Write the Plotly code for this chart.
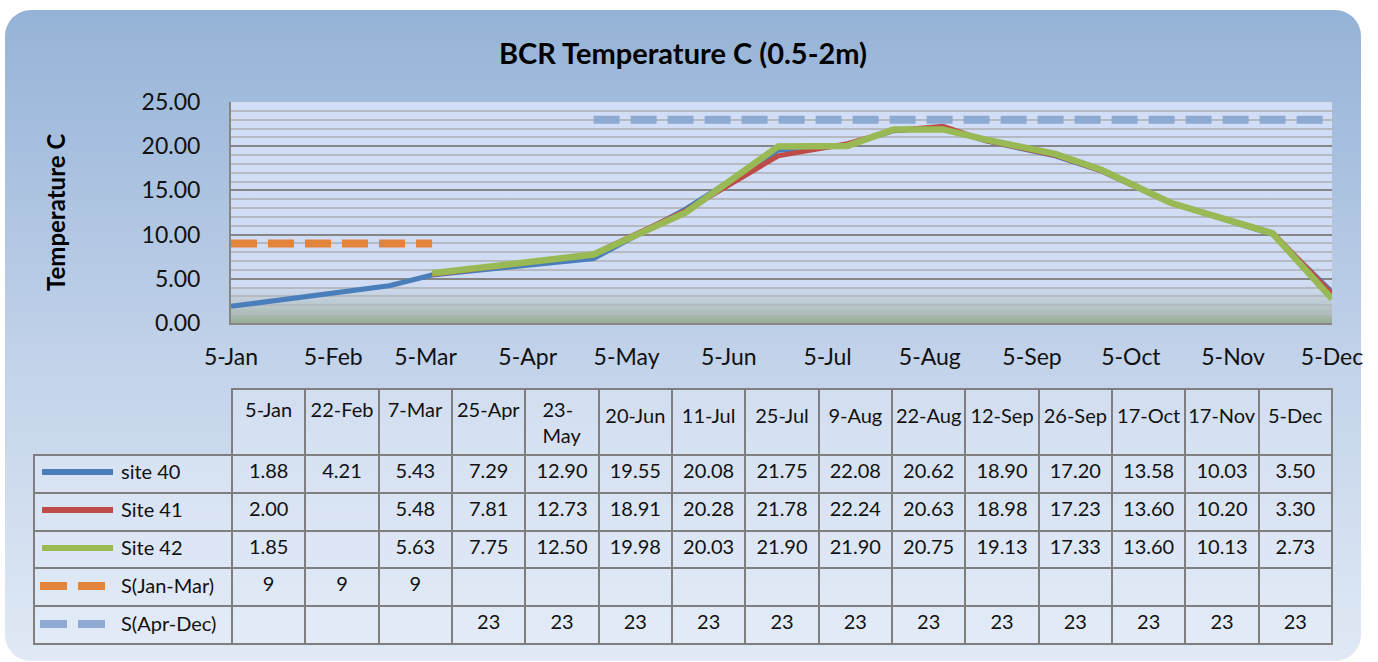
import base64
import plotly.graph_objects as go

# ---------------- data ----------------
dates = ["2010-01-05", "2010-02-22", "2010-03-07", "2010-04-25", "2010-05-23",
         "2010-06-20", "2010-07-11", "2010-07-25", "2010-08-09", "2010-08-22",
         "2010-09-12", "2010-09-26", "2010-10-17", "2010-11-17", "2010-12-05"]
table_headers = ["5-Jan", "22-Feb", "7-Mar", "25-Apr", "23-<br>May", "20-Jun", "11-Jul",
                 "25-Jul", "9-Aug", "22-Aug", "12-Sep", "26-Sep", "17-Oct", "17-Nov", "5-Dec"]
site40 = [1.88, 4.21, 5.43, 7.29, 12.90, 19.55, 20.08, 21.75, 22.08, 20.62, 18.90, 17.20, 13.58, 10.03, 3.50]
site41 = [2.00, None, 5.48, 7.81, 12.73, 18.91, 20.28, 21.78, 22.24, 20.63, 18.98, 17.23, 13.60, 10.20, 3.30]
site42 = [1.85, None, 5.63, 7.75, 12.50, 19.98, 20.03, 21.90, 21.90, 20.75, 19.13, 17.33, 13.60, 10.13, 2.73]
s_jan_mar = [9, 9, 9, None, None, None, None, None, None, None, None, None, None, None, None]
s_apr_dec = [None, None, None, 23, 23, 23, 23, 23, 23, 23, 23, 23, 23, 23, 23]
series_names = ["site 40", "Site 41", "Site 42", "S(Jan-Mar)", "S(Apr-Dec)"]
x_range = ["2010-01-05", "2010-12-05"]
y_ticks = [0, 5, 10, 15, 20, 25]

# ---------------- styling ----------------
W, H = 1378, 662
FONT = "Lato, Carlito, Calibri, sans-serif"
colors = ["#4a7ebb", "#be4b48", "#98b954", "#e3843c", "#8eaad2"]
widths = [5, 5, 6.5, 8, 8]
dashes = ["solid", "solid", "solid", "26px,11px", "26px,11px"]


def px(x):
    return x / W


def py(y):
    return 1 - y / H


PL, PR, PT, PB = 231, 1332, 102, 323  # plot area in pixels

bg_svg = f"""<svg xmlns='http://www.w3.org/2000/svg' width='{W}' height='{H}' viewBox='0 0 {W} {H}' preserveAspectRatio='none'>
<defs><linearGradient id='g' x1='0' y1='0' x2='0' y2='1'>
<stop offset='0' stop-color='#95b3d7'/><stop offset='0.55' stop-color='#c3d3ea'/><stop offset='1' stop-color='#e0e9f5'/>
</linearGradient></defs>
<rect x='5' y='10' width='1356' height='651' rx='26' ry='26' fill='url(#g)'/>
</svg>"""

pa_w, pa_h = PR - PL, PB - PT
plot_svg = f"""<svg xmlns='http://www.w3.org/2000/svg' width='{pa_w}' height='{pa_h}' viewBox='0 0 {pa_w} {pa_h}' preserveAspectRatio='none'>
<defs><linearGradient id='p' x1='0' y1='0' x2='0' y2='1'>
<stop offset='0' stop-color='#d2def6'/><stop offset='0.83' stop-color='#d0dcf3'/><stop offset='0.93' stop-color='#b7c5c8'/><stop offset='1' stop-color='#99ac96'/>
</linearGradient></defs>
<rect x='0' y='0' width='{pa_w}' height='{pa_h}' fill='url(#p)'/>
</svg>"""


def uri(svg):
    return "data:image/svg+xml;base64," + base64.b64encode(svg.encode()).decode()


fig = go.Figure()

series = [site40, site41, site42, s_jan_mar, s_apr_dec]
for name, vals, c, w, d in zip(series_names, series, colors, widths, dashes):
    fig.add_trace(go.Scatter(
        x=dates, y=vals, name=name, mode="lines",
        line=dict(color=c, width=w, dash=d),
        connectgaps=(name == "site 40"), showlegend=False,
        xaxis="x", yaxis="y",
    ))


def fmt(v, dec):
    if v is None:
        return ""
    return f"{v:.{dec}f}" if dec else f"{v:.0f}"


cols = [[""] * 5]
for i in range(len(dates)):
    cols.append([fmt(site40[i], 2), fmt(site41[i], 2), fmt(site42[i], 2),
                 fmt(s_jan_mar[i], 0), fmt(s_apr_dec[i], 0)])

# single-line headers get pushed down one line so they sit mid-cell like the wrapped one
header_text = [""] + [lbl if "<br>" in lbl else "<br>" + lbl for lbl in table_headers]

border = "#7f7f7f"
cell_fill = "rgba(235,242,252,0.35)"
TABLE_TOP = 389
fig.add_trace(go.Table(
    domain=dict(x=[px(34), px(1332)], y=[py(656), py(TABLE_TOP)]),
    columnwidth=[198] + [1100 / 15] * 15,
    header=dict(
        values=header_text,
        height=59,
        align="center",
        font=dict(family=FONT, size=20, color="#111111"),
        fill=dict(color=["rgba(0,0,0,0)"] + [cell_fill] * 15),
        line=dict(color=["rgba(0,0,0,0)"] + [border] * 15, width=2),
    ),
    cells=dict(
        values=cols,
        height=37.8,
        align="center",
        font=dict(family=FONT, size=20, color="#111111"),
        fill=dict(color=cell_fill),
        line=dict(color=border, width=2),
    ),
))

row_centers = [471, 509, 547, 585, 623]
shapes = []
annotations = []
for name, c, d, yc in zip(series_names, colors, dashes, row_centers):
    if d == "solid":
        shapes.append(dict(type="line", xref="paper", yref="paper",
                           x0=px(42), x1=px(113), y0=py(yc + 1), y1=py(yc + 1),
                           line=dict(color=c, width=6)))
    else:
        shapes.append(dict(type="line", xref="paper", yref="paper",
                           x0=px(40), x1=px(105), y0=py(yc + 1), y1=py(yc + 1),
                           line=dict(color=c, width=8, dash="27px,11px")))
    annotations.append(dict(text=name, x=px(119), y=py(yc), xref="paper", yref="paper",
                            xanchor="left", yanchor="middle", showarrow=False,
                            font=dict(family=FONT, size=20, color="#111111")))

annotations.append(dict(text="<b>BCR Temperature C (0.5-2m)</b>", x=px(683), y=py(52),
                        xref="paper", yref="paper", xanchor="center", yanchor="middle",
                        showarrow=False, font=dict(family=FONT, size=29, color="#000000")))
annotations.append(dict(text="<b>Temperature C</b>", x=px(55), y=py(213), textangle=-90,
                        xref="paper", yref="paper", xanchor="center", yanchor="middle",
                        showarrow=False, font=dict(family=FONT, size=24, color="#000000")))

fig.update_layout(
    width=W, height=H,
    margin=dict(l=0, r=0, t=0, b=0),
    paper_bgcolor="#ffffff",
    plot_bgcolor="rgba(0,0,0,0)",
    template="none",
    showlegend=False,
    shapes=shapes,
    annotations=annotations,
    images=[
        dict(source=uri(bg_svg), xref="paper", yref="paper", x=0, y=1, sizex=1, sizey=1,
             xanchor="left", yanchor="top", sizing="stretch", layer="below"),
        dict(source=uri(plot_svg), xref="paper", yref="paper", x=px(PL), y=py(PT),
             sizex=px(PR) - px(PL), sizey=py(PT) - py(PB),
             xanchor="left", yanchor="top", sizing="stretch", layer="below"),
    ],
    xaxis=dict(
        domain=[px(PL), px(PR)], anchor="y", type="date", range=x_range,
        tick0=x_range[0], dtick="M1", tickformat="%-d-%b",
        showgrid=False, zeroline=False, automargin=False,
        showline=True, linecolor="#868686", linewidth=2,
        ticks="", ticklabelstandoff=12,
        tickfont=dict(family=FONT, size=23, color="#111111"),
    ),
    yaxis=dict(
        domain=[py(PB), py(PT)], anchor="x", range=[0, 25],
        tickvals=y_ticks, tickformat=".2f",
        showgrid=True, gridcolor="#868686", gridwidth=2,
        minor=dict(dtick=1, showgrid=True, gridcolor="#b5b9c1", gridwidth=2),
        zeroline=False, automargin=False,
        showline=True, linecolor="#868686", linewidth=2,
        ticks="", ticklabelstandoff=24,
        tickfont=dict(family=FONT, size=23, color="#111111"),
    ),
)

fig.write_html("out.html", config={"displayModeBar": False},
               post_script="document.body.style.margin='0';document.body.style.overflow='hidden';")
